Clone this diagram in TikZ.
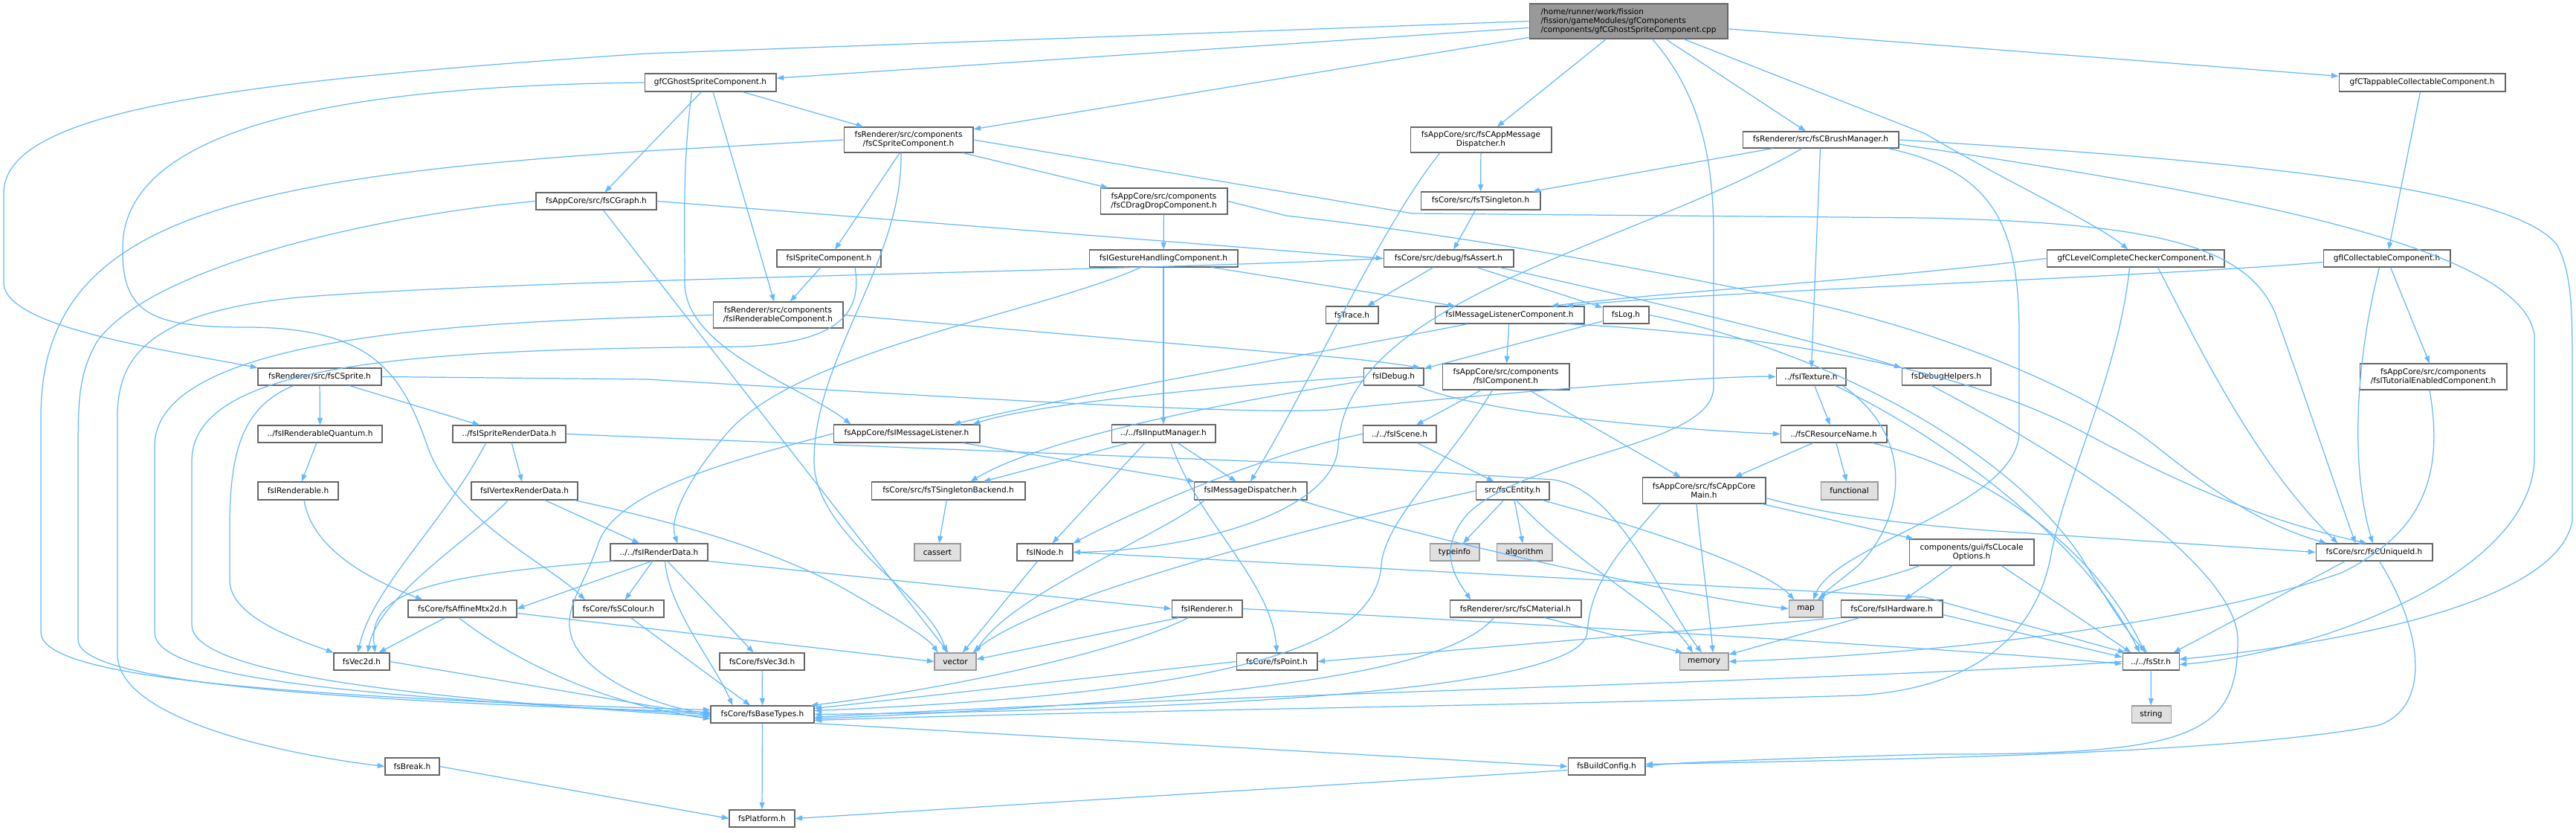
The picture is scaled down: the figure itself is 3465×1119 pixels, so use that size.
\documentclass[tikz,border=0pt]{standalone}
\usepackage{fontspec}
\setmainfont{DejaVu Sans}
\usetikzlibrary{arrows.meta,calc}
\definecolor{edgec}{HTML}{63B8FF}
\definecolor{nodeb}{HTML}{666666}
\definecolor{extb}{HTML}{999999}
\definecolor{extf}{HTML}{E0E0E0}
\definecolor{mainf}{HTML}{999999}
\tikzset{
  box/.style={draw=nodeb,fill=white,line width=0.6pt,inner sep=0pt,align=center,
    font=\fontsize{6}{6.8}\selectfont,text=black},
  ext/.style={draw=extb,fill=extf},
  mainbox/.style={fill=mainf,align=left},
  plain/.style={},
  e/.style={draw=edgec,line width=0.7pt,-{Triangle[length=5.5pt,width=4pt]}}
}
\newcommand\mknode[7]{\node[box,#6,minimum width={(#3-#2)*0.569055},minimum height={(#5-#4)*0.569055}] (#1) at ({(#2+#3)/2},{(#4+#5)/2}) {#7};}
\begin{document}
\begin{tikzpicture}[x=0.02cm,y=-0.02cm]
\useasboundingbox (0,0) rectangle (3465,1119);
% nodes
\mknode{main}{2057}{2324}{5}{52}{mainbox}{/home/runner/work/fission\\/fission/gameModules/gfComponents\\/components/gfCGhostSpriteComponent.cpp}
\mknode{gfGhost}{867}{1044}{99}{123}{plain}{gfCGhostSpriteComponent.h}
\mknode{tapp}{3146}{3370}{99}{123}{plain}{gfCTappableCollectableComponent.h}
\mknode{spriteComp}{1135}{1309}{171}{205}{plain}{fsRenderer/src/components\\/fsCSpriteComponent.h}
\mknode{appMsgDisp}{1897}{2087}{171}{205}{plain}{fsAppCore/src/fsCAppMessage\\Dispatcher.h}
\mknode{brushMgr}{2344}{2554}{177}{199}{plain}{fsRenderer/src/fsCBrushManager.h}
\mknode{graph}{721}{883}{259}{282}{plain}{fsAppCore/src/fsCGraph.h}
\mknode{dragDrop}{1480}{1651}{253}{288}{plain}{fsAppCore/src/components\\/fsCDragDropComponent.h}
\mknode{tsingleton}{1911}{2072}{258}{282}{plain}{fsCore/src/fsTSingleton.h}
\mknode{iSpriteComp}{1045}{1185}{336}{359}{plain}{fsISpriteComponent.h}
\mknode{gesture}{1465}{1665}{336}{359}{plain}{fsIGestureHandlingComponent.h}
\mknode{assert}{1861}{2036}{336}{359}{plain}{fsCore/src/debug/fsAssert.h}
\mknode{levelChk}{2753}{2992}{336}{359}{plain}{gfCLevelCompleteCheckerComponent.h}
\mknode{iCollect}{3125}{3296}{336}{359}{plain}{gfICollectableComponent.h}
\mknode{renderableComp}{959}{1134}{406}{441}{plain}{fsRenderer/src/components\\/fsIRenderableComponent.h}
\mknode{trace}{1783}{1854}{412}{435}{plain}{fsTrace.h}
\mknode{msgListenerComp}{1930}{2131}{412}{435}{plain}{fsIMessageListenerComponent.h}
\mknode{log}{2156}{2218}{412}{435}{plain}{fsLog.h}
\mknode{cSprite}{347}{513}{495}{518}{plain}{fsRenderer/src/fsCSprite.h}
\mknode{iDebug}{1834}{1915}{495}{518}{plain}{fsIDebug.h}
\mknode{iComponent}{1940}{2111}{489}{524}{plain}{fsAppCore/src/components\\/fsIComponent.h}
\mknode{iTexture}{2389}{2483}{495}{518}{plain}{../fsITexture.h}
\mknode{debugHelpers}{2558}{2678}{495}{518}{plain}{fsDebugHelpers.h}
\mknode{tutorial}{3174}{3372}{489}{524}{plain}{fsAppCore/src/components\\/fsITutorialEnabledComponent.h}
\mknode{renderQuantum}{347}{514}{572}{595}{plain}{../fsIRenderableQuantum.h}
\mknode{spriteRenderData}{609}{761}{572}{595}{plain}{../fsISpriteRenderData.h}
\mknode{msgListener}{1121}{1318}{571}{595}{plain}{fsAppCore/fsIMessageListener.h}
\mknode{inputMgr}{1495}{1635}{571}{595}{plain}{../../fsIInputManager.h}
\mknode{iScene}{1833}{1932}{572}{595}{plain}{../../fsIScene.h}
\mknode{resName}{2395}{2538}{572}{595}{plain}{../fsCResourceName.h}
\mknode{renderable}{347}{455}{648}{672}{plain}{fsIRenderable.h}
\mknode{vertexRD}{634}{777}{648}{672}{plain}{fsIVertexRenderData.h}
\mknode{tsBackend}{1172}{1379}{648}{672}{plain}{fsCore/src/fsTSingletonBackend.h}
\mknode{msgDisp}{1606}{1758}{648}{672}{plain}{fsIMessageDispatcher.h}
\mknode{entity}{1985}{2084}{648}{672}{plain}{src/fsCEntity.h}
\mknode{appCoreMain}{2209}{2375}{642}{677}{plain}{fsAppCore/src/fsCAppCore\\Main.h}
\mknode{functional}{2449}{2526}{648}{672}{ext}{functional}
\mknode{renderData}{821}{952}{731}{754}{plain}{../../fsIRenderData.h}
\mknode{cassert}{1230}{1292}{731}{754}{ext}{cassert}
\mknode{iNode}{1368}{1443}{731}{754}{plain}{fsINode.h}
\mknode{typeinfo}{1923}{1990}{731}{754}{ext}{typeinfo}
\mknode{algorithm}{2013}{2088}{731}{754}{ext}{algorithm}
\mknode{locale}{2568}{2736}{725}{760}{plain}{components/gui/fsCLocale\\Options.h}
\mknode{uniqueId}{3115}{3272}{731}{754}{plain}{fsCore/src/fsCUniqueId.h}
\mknode{affine}{549}{695}{807}{830}{plain}{fsCore/fsAffineMtx2d.h}
\mknode{colour}{771}{893}{807}{830}{plain}{fsCore/fsSColour.h}
\mknode{renderer}{1576}{1671}{807}{830}{plain}{fsIRenderer.h}
\mknode{material}{1950}{2127}{807}{830}{plain}{fsRenderer/src/fsCMaterial.h}
\mknode{map}{2406}{2452}{807}{830}{ext}{map}
\mknode{hardware}{2476}{2613}{807}{830}{plain}{fsCore/fsIHardware.h}
\mknode{vec2d}{449}{524}{878}{901}{plain}{fsVec2d.h}
\mknode{vec3d}{968}{1082}{878}{901}{plain}{fsCore/fsVec3d.h}
\mknode{vector}{1257}{1313}{878}{901}{ext}{vector}
\mknode{point}{1663}{1772}{878}{901}{plain}{fsCore/fsPoint.h}
\mknode{memory}{2259}{2325}{878}{901}{ext}{memory}
\mknode{str}{2855}{2931}{878}{901}{plain}{../../fsStr.h}
\mknode{baseTypes}{956}{1095}{949}{972}{plain}{fsCore/fsBaseTypes.h}
\mknode{string}{2867}{2920}{949}{972}{ext}{string}
\mknode{break}{518}{591}{1019}{1042}{plain}{fsBreak.h}
\mknode{buildConfig}{2109}{2213}{1019}{1042}{plain}{fsBuildConfig.h}
\mknode{platform}{981}{1069}{1089}{1112}{plain}{fsPlatform.h}
% edges: main
\draw[e] (main) -- (gfGhost);
\draw[e] (main.west) -- (870,72) .. controls (300,110) and (5,150) .. (5,260) -- (5,380) .. controls (5,440) and (220,470) .. (cSprite.north west);
\draw[e] (main) -- (spriteComp);
\draw[e] (main) -- (appMsgDisp);
\draw[e] ($(main.south)+(50,0)$) -- ($(brushMgr.north)+(-20,0)$);
\draw[e] ($(main.south east)+(-60,0)$) -- (2590,180) .. controls (2700,245) and (2820,300) .. ($(levelChk.north)+(-10,0)$);
\draw[e] (main) -- (tapp);
\draw[e] ($(main.south)+(32,0)$) .. controls (2290,130) and (2305,220) .. (2305,320) -- (2305,520) .. controls (2305,600) and (2060,610) .. (1975,690) .. controls (1930,740) and (1960,780) .. ($(material.north)+(-60,0)$);
% gfGhost
\draw[e] (gfGhost) -- (spriteComp);
\draw[e] (gfGhost) -- (graph);
\draw[e] (gfGhost) -- (renderableComp);
\draw[e] ($(gfGhost.south)+(-25,0)$) .. controls (918,220) and (921,300) .. (921,380) .. controls (921,470) and (1080,520) .. ($(msgListener.north)+(-75,0)$);
\draw[e] (gfGhost.west) .. controls (500,115) and (170,160) .. (165,330) .. controls (163,420) and (200,440) .. (330,440) .. controls (500,440) and (540,500) .. (575,600) .. controls (610,700) and (740,760) .. ($(colour.north)+(-45,0)$);
% spriteComp
\draw[e] (spriteComp) -- (iSpriteComp);
\draw[e] (spriteComp) -- (dragDrop);
\draw[e] (spriteComp.east) -- (1900,287) -- (2590,293) .. controls (2900,300) and (3020,330) .. (3060,420) .. controls (3110,560) and (3150,680) .. ($(uniqueId.north)+(-25,0)$);
\draw[e] (spriteComp.west) -- (870,203) .. controls (300,240) and (55,300) .. (55,560) -- (55,850) .. controls (55,905) and (300,935) .. ($(baseTypes.west)+(0,-6)$);
\draw[e] ($(spriteComp.south)+(-10,0)$) .. controls (1215,350) and (1095,480) .. (1095,620) .. controls (1095,720) and (1250,800) .. ($(vector.north)+(-12,0)$);
% appMsgDisp
\draw[e] (appMsgDisp) -- (tsingleton);
\draw[e] ($(appMsgDisp.south)+(-55,0)$) .. controls (1860,300) and (1760,520) .. (msgDisp.north);
% brushMgr
\draw[e] (brushMgr) -- (tsingleton);
\draw[e] (brushMgr) -- (iTexture);
\draw[e] ($(brushMgr.south)+(-25,0)$) .. controls (2200,330) and (1810,400) .. (1800,600) .. controls (1795,690) and (1600,740) .. (iNode.east);
\draw[e] ($(brushMgr.south east)+(-15,0)$) .. controls (2680,230) and (2716,300) .. (2716,450) -- (2716,580) .. controls (2716,680) and (2470,730) .. ($(map.north)+(10,0)$);
\draw[e] (brushMgr.east) .. controls (3000,215) and (3380,250) .. (3440,330) .. controls (3460,370) and (3460,420) .. (3460,500) -- (3460,700) .. controls (3440,820) and (3100,870) .. ($(str.east)+(0,-3)$);
\draw[e] ($(brushMgr.east)+(0,6)$) .. controls (3000,260) and (3390,330) .. (3409,450) -- (3409,620) .. controls (3400,780) and (3100,880) .. ($(str.east)+(0,4)$);
% graph
\draw[e] (graph.east) -- (assert.west);
\draw[e] (graph.west) .. controls (500,290) and (200,360) .. (130,460) .. controls (108,500) and (105,530) .. (105,600) -- (105,860) .. controls (105,910) and (350,940) .. ($(baseTypes.west)+(0,-3)$);
\draw[e] (graph) -- (vector);
% dragDrop
\draw[e] (dragDrop) -- (gesture);
\draw[e] (dragDrop.east) -- (1730,290) .. controls (2000,320) and (2250,370) .. (2400,400) .. controls (2600,440) and (2800,520) .. (2900,600) .. controls (3000,680) and (3060,710) .. ($(uniqueId.north west)+(15,0)$);
% tsingleton
\draw[e] (tsingleton) -- (assert);
% gesture
\draw[e] (gesture) -- (inputMgr);
\draw[e] ($(gesture.south east)+(-35,0)$) -- ($(msgListenerComp.north west)+(28,0)$);
\draw[e] ($(gesture.south west)+(70,0)$) .. controls (1400,420) and (1080,470) .. (980,580) .. controls (920,650) and (900,700) .. ($(renderData.north)+(25,0)$);
% iSpriteComp
\draw[e] (iSpriteComp) -- (renderableComp);
\draw[e] ($(iSpriteComp.south)+(35,0)$) .. controls (1160,420) and (1130,460) .. (1000,466) .. controls (600,470) and (258,480) .. (258,620) -- (258,840) .. controls (258,900) and (500,935) .. ($(baseTypes.west)+(0,3)$);
% renderableComp
\draw[e] (renderableComp.east) -- (1730,475) .. controls (1800,480) and (1850,485) .. ($(iDebug.north east)+(-5,0)$);
\draw[e] (renderableComp.west) .. controls (700,432) and (208,440) .. (208,600) -- (208,850) .. controls (208,910) and (450,935) .. (baseTypes.west);
% msgListenerComp
\draw[e] (msgListenerComp) -- (iComponent);
\draw[e] ($(msgListenerComp.south west)+(45,0)$) .. controls (1800,470) and (1450,530) .. ($(msgListener.north east)+(-36,0)$);
\draw[e] ($(msgListenerComp.south east)+(-25,0)$) .. controls (2400,450) and (2650,500) .. (2800,580) .. controls (2950,660) and (3050,700) .. ($(uniqueId.north)+(-10,0)$);
% log
\draw[e] (log) -- (iDebug);
\draw[e] (log.east) .. controls (2450,470) and (2700,600) .. (2800,750) .. controls (2830,800) and (2860,850) .. ($(str.north)+(-5,0)$);
% assert
\draw[e] (assert) -- (trace);
\draw[e] (assert) -- (log);
\draw[e] ($(assert.south east)+(-20,0)$) .. controls (2200,400) and (2450,460) .. (debugHelpers.north west);
\draw[e] (assert.west) .. controls (1500,365) and (700,375) .. (400,400) .. controls (200,420) and (158,480) .. (158,560) -- (158,880) .. controls (158,960) and (350,1010) .. (break.west);
% iComponent
\draw[e] (iComponent) -- (iScene);
\draw[e] (iComponent) -- (appCoreMain);
\draw[e] ($(iComponent.south west)+(68,0)$) .. controls (1950,620) and (1862,700) .. (1858,760) .. controls (1850,860) and (1700,930) .. ($(baseTypes.east)+(0,-5)$);
% iTexture
\draw[e] (iTexture) -- (resName);
\draw[e] ($(iTexture.south east)+(-15,0)$) .. controls (2600,580) and (2800,720) .. ($(str.north)+(-15,0)$);
\draw[e] ($(iTexture.south east)+(-5,0)$) .. controls (2580,590) and (2560,700) .. (2500,760) .. controls (2470,785) and (2455,795) .. ($(map.north east)+(-3,0)$);
% resName
\draw[e] (resName) -- (appCoreMain);
\draw[e] (resName) -- (functional);
\draw[e] ($(resName.south east)+(-20,0)$) .. controls (2700,640) and (2830,760) .. ($(str.north)+(-8,0)$);
% iDebug
\draw[e] (iDebug.west) .. controls (1700,515) and (1400,540) .. ($(msgListener.north east)+(-10,0)$);
\draw[e] ($(iDebug.west)+(0,6)$) .. controls (1650,540) and (1400,590) .. ($(tsBackend.north)+(30,0)$);
\draw[e] ($(iDebug.south east)+(-10,0)$) .. controls (2000,560) and (2300,580) .. (resName.west);
% iScene
\draw[e] (iScene) -- (entity);
\draw[e] (iScene.west) .. controls (1700,610) and (1520,690) .. (iNode.north east);
% entity
\draw[e] (entity) -- (typeinfo);
\draw[e] (entity) -- (algorithm);
\draw[e] ($(entity.south)+(5,0)$) .. controls (2120,760) and (2240,820) .. ($(memory.north)+(-15,0)$);
\draw[e] ($(entity.south east)+(-10,0)$) .. controls (2250,720) and (2380,770) .. ($(map.north west)+(8,0)$);
\draw[e] (entity.west) .. controls (1800,700) and (1400,800) .. ($(vector.north east)+(-5,0)$);
% iNode
\draw[e] (iNode) -- (vector);
\draw[e] (iNode.east) -- (2590,803) -- ($(str.north west)+(4,0)$);
% appCoreMain
\draw[e] (appCoreMain) -- (locale);
\draw[e] ($(appCoreMain.east)+(0,10)$) .. controls (2450,690) and (2550,705) .. (2700,715) -- (uniqueId.west);
\draw[e] ($(appCoreMain.south)+(-10,0)$) .. controls (2290,760) and (2300,830) .. ($(memory.north)+(12,0)$);
\draw[e] ($(appCoreMain.south west)+(25,0)$) .. controls (2180,740) and (2140,780) .. (2135,850) .. controls (2130,930) and (1600,955) .. (baseTypes.east);
% locale
\draw[e] ($(locale.south west)+(15,0)$) .. controls (2530,780) and (2470,790) .. ($(map.north east)+(-8,0)$);
\draw[e] (locale) -- (hardware);
\draw[e] ($(locale.south)+(40,0)$) -- ($(str.north west)+(12,0)$);
% hardware
\draw[e] (hardware.south west) -- (point.east);
\draw[e] (hardware) -- (memory);
\draw[e] ($(hardware.south east)+(0,-4)$) -- ($(str.west)+(0,-6)$);
% uniqueId
\draw[e] ($(uniqueId.south west)+(40,0)$) -- ($(str.north east)+(-8,0)$);
\draw[e] ($(uniqueId.south)+(7,0)$) .. controls (3260,850) and (3270,950) .. (3200,975) .. controls (3000,1015) and (2500,1022) .. ($(buildConfig.east)+(0,-3)$);
% debugHelpers
\draw[e] ($(debugHelpers.south)+(-20,0)$) .. controls (2850,650) and (3010,780) .. (3010,860) .. controls (3010,990) and (2950,1015) .. (2600,1014) .. controls (2400,1020) and (2250,1025) .. (buildConfig.east);
% str
\draw[e] (str) -- (string);
\draw[e] (str.west) .. controls (2500,915) and (1600,935) .. ($(baseTypes.east)+(0,4)$);
% tutorial
\draw[e] ($(tutorial.south)+(-5,0)$) .. controls (3290,650) and (3250,720) .. (3150,770) .. controls (2950,840) and (2600,880) .. (memory.east);
% tapp / iCollect / levelChk
\draw[e] (tapp) -- (iCollect);
\draw[e] ($(iCollect.south)+(-10,0)$) .. controls (3170,480) and (3160,620) .. ($(uniqueId.north)+(-2,0)$);
\draw[e] ($(iCollect.south)+(5,0)$) -- ($(tutorial.north)+(-5,0)$);
\draw[e] ($(iCollect.west)+(0,5)$) .. controls (2900,372) and (2300,392) .. ($(msgListenerComp.north east)+(-25,0)$);
\draw[e] (levelChk.west) .. controls (2500,378) and (2250,392) .. ($(msgListenerComp.north east)+(-45,0)$);
\draw[e] ($(levelChk.south)+(30,0)$) .. controls (2950,450) and (3030,620) .. ($(uniqueId.north west)+(30,0)$);
\draw[e] ($(levelChk.south)+(-8,0)$) .. controls (2850,500) and (2780,640) .. (2760,740) .. controls (2740,860) and (2650,925) .. (2500,935) .. controls (2000,950) and (1500,955) .. ($(baseTypes.east)+(0,8)$);
% lower left
\draw[e] (cSprite) -- (renderQuantum);
\draw[e] (cSprite) -- (spriteRenderData);
\draw[e] ($(cSprite.south)+(-35,0)$) .. controls (330,545) and (310,600) .. (309,700) -- (309,780) .. controls (309,830) and (400,860) .. (vec2d.north west);
\draw[e] (cSprite.east) -- (870,510) .. controls (1300,535) and (1700,560) .. (1800,550) .. controls (2000,530) and (2300,505) .. (iTexture.west);
\draw[e] (renderQuantum) -- (renderable);
\draw[e] ($(renderable.south)+(8,0)$) .. controls (420,740) and (500,780) .. ($(affine.north west)+(20,0)$);
\draw[e] (spriteRenderData) -- (vertexRD);
\draw[e] ($(spriteRenderData.south west)+(45,0)$) .. controls (600,700) and (500,790) .. ($(vec2d.north)+(-5,0)$);
\draw[e] (spriteRenderData.east) -- (870,588) -- (1730,622) -- (2090,645) .. controls (2180,660) and (2230,800) .. ($(memory.north)+(-3,0)$);
\draw[e] (vertexRD) -- (renderData);
\draw[e] ($(vertexRD.south west)+(50,0)$) .. controls (640,720) and (510,800) .. ($(vec2d.north)+(8,0)$);
\draw[e] ($(vertexRD.south east)+(-5,0)$) .. controls (900,700) and (1050,740) .. (1150,800) .. controls (1220,840) and (1250,860) .. ($(vector.north west)+(5,0)$);
\draw[e] (renderData) -- (colour);
\draw[e] (renderData) -- (vec3d);
\draw[e] (renderData.south east) -- (renderer.west);
\draw[e] ($(renderData.south)+(-10,0)$) -- (affine.east);
\draw[e] ($(renderData.south west)+(5,0)$) .. controls (560,775) and (495,800) .. ($(vec2d.north)+(18,0)$);
\draw[e] ($(renderData.south)+(8,0)$) .. controls (900,820) and (960,890) .. ($(baseTypes.north west)+(30,0)$);
\draw[e] (affine) -- (vec2d);
\draw[e] ($(affine.east)+(0,6)$) -- (vector.west);
\draw[e] ($(affine.south)+(-5,0)$) .. controls (680,880) and (800,945) .. ($(baseTypes.west)+(0,6)$);
\draw[e] (colour) -- (baseTypes);
\draw[e] (vec2d.east) -- ($(baseTypes.west)+(0,2)$);
\draw[e] (vec3d) -- (baseTypes);
\draw[e] ($(renderer.south west)+(10,0)$) -- ($(vector.east)+(0,-3)$);
\draw[e] ($(renderer.south)+(-25,0)$) .. controls (1500,880) and (1250,930) .. ($(baseTypes.north east)+(-5,0)$);
\draw[e] (renderer.east) .. controls (2000,835) and (2600,870) .. ($(str.west)+(0,3)$);
\draw[e] (point.west) -- ($(baseTypes.east)+(0,-8)$);
\draw[e] (msgListener) -- (msgDisp);
\draw[e] (msgListener.west) .. controls (980,620) and (830,660) .. (805,730) .. controls (785,790) and (755,820) .. (770,860) .. controls (790,910) and (880,950) .. ($(baseTypes.west)+(0,-1)$);
\draw[e] (inputMgr) -- (tsBackend);
\draw[e] ($(inputMgr.south)+(-25,0)$) -- ($(iNode.north)+(10,0)$);
\draw[e] (inputMgr) -- (msgDisp);
\draw[e] ($(inputMgr.south)+(10,0)$) .. controls (1610,700) and (1710,780) .. (point.north);
\draw[e] (tsBackend) -- (cassert);
\draw[e] ($(msgDisp.south west)+(15,0)$) .. controls (1560,720) and (1360,800) .. ($(vector.north east)+(-2,0)$);
\draw[e] ($(msgDisp.south east)+(-10,0)$) .. controls (1900,720) and (2250,800) .. (map.west);
\draw[e] ($(material.south east)+(-50,0)$) -- ($(memory.north west)+(5,0)$);
\draw[e] ($(material.south west)+(60,0)$) .. controls (1950,900) and (1700,940) .. ($(baseTypes.east)+(0,6)$);
\draw[e] (baseTypes) -- (platform);
\draw[e] (baseTypes.south east) -- (buildConfig.west);
\draw[e] (break.east) -- (platform.west);
\draw[e] ($(buildConfig.west)+(0,5)$) -- (platform.east);
\end{tikzpicture}
\end{document}
